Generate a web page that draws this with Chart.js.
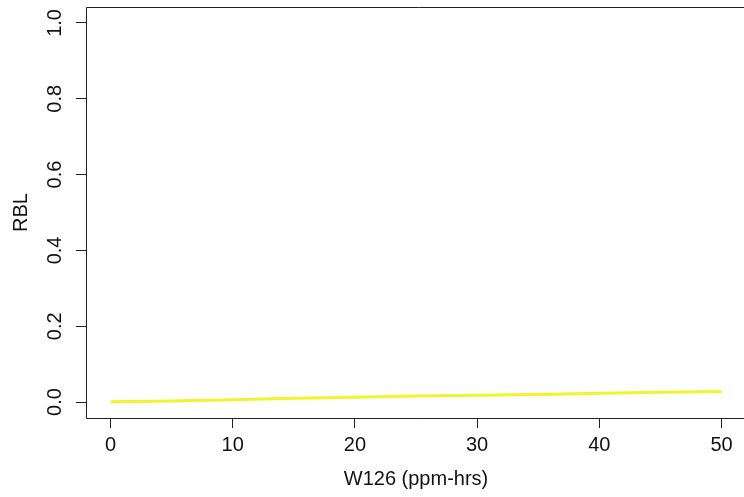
<!DOCTYPE html>
<html>
<head>
<meta charset="utf-8">
<script src="https://cdn.jsdelivr.net/npm/chart.js@4.4.1/dist/chart.umd.min.js"></script>
<style>
  html, body { margin: 0; padding: 0; background: #fff; overflow: hidden; }
  #wrap { width: 750px; height: 497px; }
</style>
</head>
<body>
<div id="wrap"><canvas id="rbl" width="750" height="497"></canvas></div>
<script>
// W126 exposure (ppm-hrs) vs relative biomass loss
const w126 = [0, 5, 10, 15, 20, 25, 30, 35, 40, 45, 50];
const rbl = [0.001, 0.003, 0.006, 0.010, 0.013, 0.016, 0.018, 0.020, 0.023, 0.026, 0.028];
const xTicks = [0, 10, 20, 30, 40, 50];
const yTicks = [0.0, 0.2, 0.4, 0.6, 0.8, 1.0];

const font = "'Liberation Sans', Arial, sans-serif";

// plot frame; the right side falls outside the window in the original
const boxPlugin = {
  id: "box",
  afterDraw(chart) {
    const { ctx, chartArea: a } = chart;
    const l = Math.round(a.left) + 0.5;
    const t = Math.round(a.top) + 0.5;
    const b = Math.round(a.bottom) + 0.5;
    ctx.save();
    ctx.strokeStyle = "#222";
    ctx.lineWidth = 1;
    ctx.beginPath();
    ctx.moveTo(760, t);
    ctx.lineTo(l, t);
    ctx.lineTo(l, b);
    ctx.lineTo(760, b);
    ctx.stroke();
    ctx.restore();
  },
};

new Chart(document.getElementById("rbl"), {
  type: "line",
  data: {
    datasets: [
      {
        data: w126.map((x, i) => ({ x: x, y: rbl[i] })),
        borderColor: "rgb(240,243,45)",
        borderWidth: 3,
        pointRadius: 0,
        tension: 0,
        fill: false,
      },
    ],
  },
  options: {
    responsive: false,
    animation: false,
    layout: { padding: { top: 7, right: 4, left: 0, bottom: 0 } },
    plugins: { legend: { display: false }, tooltip: { enabled: false } },
    scales: {
      x: {
        type: "linear",
        min: -2,
        max: 52,
        afterBuildTicks: (s) => { s.ticks = xTicks.map((v) => ({ value: v })); },
        afterFit: (s) => { s.height = 79; s.paddingLeft = 0; s.paddingRight = 0; },
        border: { display: false },
        grid: { drawOnChartArea: false, drawTicks: true, tickLength: 10, color: "#222" },
        ticks: { color: "#111", font: { family: font, size: 20 }, padding: 5, maxRotation: 0, autoSkip: false },
        title: { display: true, text: "W126 (ppm-hrs)", color: "#111", font: { family: font, size: 20 }, padding: { top: 0, bottom: 6 } },
      },
      y: {
        type: "linear",
        min: -0.042,
        max: 1.042,
        afterBuildTicks: (s) => { s.ticks = yTicks.map((v) => ({ value: v })); },
        afterFit: (s) => { s.width = 86; s.paddingTop = 0; s.paddingBottom = 0; },
        border: { display: false },
        grid: { drawOnChartArea: false, drawTicks: true, tickLength: 10, color: "#222" },
        ticks: {
          color: "#111",
          font: { family: font, size: 20 },
          padding: 7,
          minRotation: 90,
          maxRotation: 90,
          crossAlign: "center",
          autoSkip: false,
          callback: (v) => v.toFixed(1),
        },
        title: { display: true, text: "RBL", color: "#111", font: { family: font, size: 20 }, padding: { top: 9, bottom: 0 } },
      },
    },
  },
  plugins: [boxPlugin],
});
</script>
</body>
</html>
